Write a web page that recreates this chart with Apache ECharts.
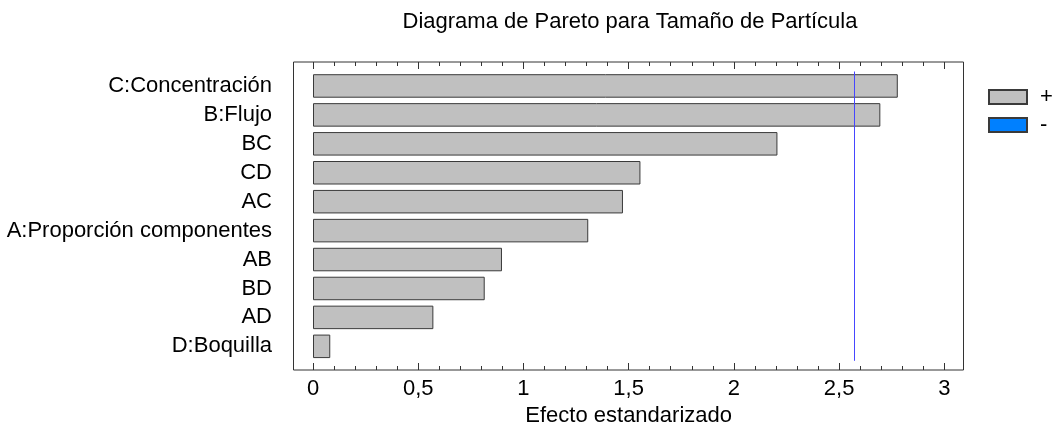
<!DOCTYPE html>
<html>
<head>
<meta charset="utf-8">
<script src="https://cdn.jsdelivr.net/npm/echarts@6/dist/echarts.min.js"></script>
<style>html,body{margin:0;padding:0;background:#fff;}#c{width:1052px;height:428px;}</style>
</head>
<body>
<div id="c"></div>
<script>
const titleText = 'Diagrama de Pareto para Tamaño de Partícula';
const axisName = 'Efecto estandarizado';
const categories = ['C:Concentración','B:Flujo','BC','CD','AC','A:Proporción componentes','AB','BD','AD','D:Boquilla'];
const positiveEffects = [2.779, 2.696, 2.207, 1.556, 1.473, 1.308, 0.898, 0.816, 0.572, 0.082];
const negativeEffects = ['-','-','-','-','-','-','-','-','-','-'];
const criticalValue = 2.571;
const legendNames = ['+','-'];

const FONT = 'Liberation Sans, Arial, sans-serif';
const chart = echarts.init(document.getElementById('c'), null, {renderer:'canvas'});
const tickLabel = v => String(v).replace('.', ',');
function xAx(pos, showLabel, offset){
  return {
    type:'value', gridIndex:1, position:pos, min:0, max:3, interval:0.5, offset:offset,
    axisLine:{show:false},
    axisTick:{show:true, inside:true, length:7, lineStyle:{color:'#333', width:1}},
    minorTick:{show:true, splitNumber:5, length:4, lineStyle:{color:'#333', width:1}},
    splitLine:{show:false}, minorSplitLine:{show:false},
    axisLabel:{show:showLabel, color:'#000', fontFamily:FONT, fontSize:22, margin:8, formatter:tickLabel},
    name: showLabel ? axisName : '', nameLocation:'middle', nameGap:34,
    nameTextStyle:{color:'#000', fontFamily:FONT, fontSize:22}
  };
}
chart.setOption({
  animation:false,
  backgroundColor:'#fff',
  title:{text:titleText, left:625, textAlign:'center', top:6,
    textStyle:{color:'#000', fontFamily:FONT, fontSize:22, fontWeight:'normal'}},
  legend:{
    data:legendNames, orient:'vertical', left:983, top:81, itemWidth:38, itemHeight:14, itemGap:6,
    icon:'rect', textStyle:{color:'#000', fontFamily:FONT, fontSize:22, padding:[0,0,0,8]},
    selectedMode:false
  },
  grid:[
    {left:293.5, right:88.5, top:62, bottom:58, show:true, borderColor:'#333', borderWidth:1,
     backgroundColor:'transparent', outerBoundsMode:'none', containLabel:false},
    {left:313, right:107.7, top:71.5, bottom:67.2, outerBoundsMode:'none', containLabel:false}
  ],
  xAxis:[ xAx('bottom', true, 9.2), xAx('top', false, 9.5),
    {type:'value', gridIndex:0, show:false} ],
  yAxis:[
    {type:'category', gridIndex:1, inverse:true, data:categories,
     axisLine:{show:false}, axisTick:{show:false}, splitLine:{show:false},
     axisLabel:{color:'#000', fontFamily:FONT, fontSize:22, margin:41}},
    {type:'value', gridIndex:0, show:false}
  ],
  series:[
    {name:legendNames[0], type:'bar', xAxisIndex:0, yAxisIndex:0, data:positiveEffects, barWidth:23.5, barGap:'-100%',
     itemStyle:{color:'#c0c0c0', borderColor:'#3a3a3a', borderWidth:1},
     markLine:{silent:true, symbol:'none', label:{show:false},
       lineStyle:{color:'#4646ff', width:1, type:'solid'}, data:[{xAxis:criticalValue}]}},
    {name:legendNames[1], type:'bar', xAxisIndex:0, yAxisIndex:0, data:negativeEffects, barWidth:23.5, barGap:'-100%',
     itemStyle:{color:'#0080ff', borderColor:'#3a3a3a', borderWidth:1}}
  ]
});
</script>
</body>
</html>
